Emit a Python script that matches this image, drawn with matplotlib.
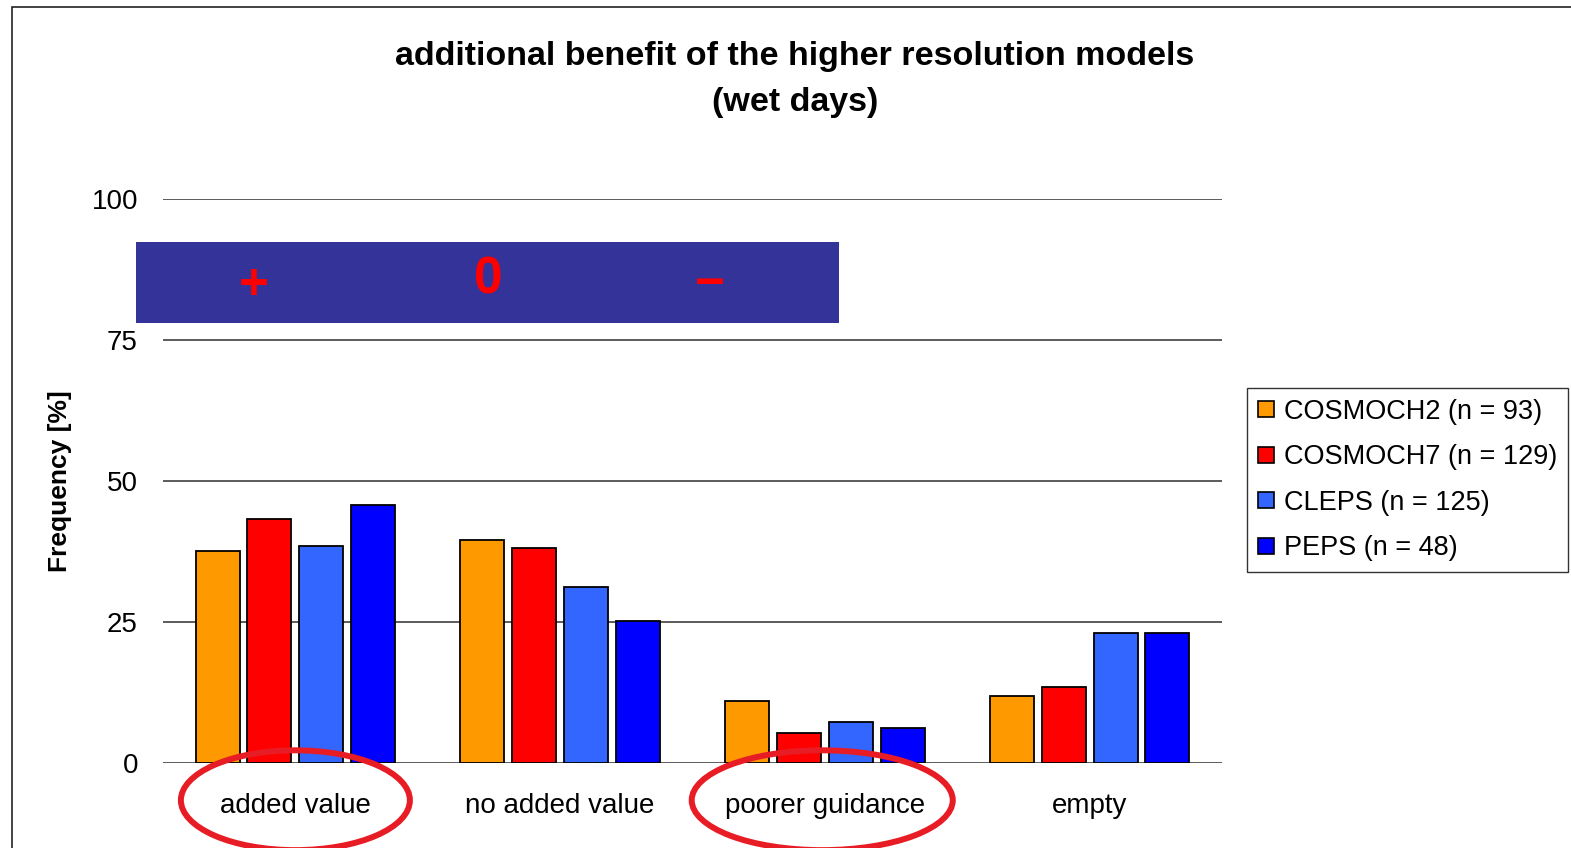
import matplotlib
matplotlib.use("Agg")
import matplotlib.pyplot as plt
import numpy as np
from matplotlib.patches import Rectangle, Ellipse
from matplotlib.lines import Line2D

plt.rcParams['font.family'] = ['Liberation Sans', 'DejaVu Sans']

categories = ["added value", "no added value", "poorer guidance", "empty"]
series_names = ["COSMOCH2 (n = 93)", "COSMOCH7 (n = 129)", "CLEPS (n = 125)", "PEPS (n = 48)"]
cosmoch2 = [37.6, 39.6, 11.0, 11.8]
cosmoch7 = [43.3, 38.1, 5.4, 13.4]
cleps = [38.5, 31.2, 7.3, 23.1]
peps = [45.7, 25.1, 6.2, 23.1]
yticks = [0, 25, 50, 75, 100]
colors = ["#FF9900", "#FF0000", "#3366FF", "#0000FF"]

W, H = 1571, 848
fig = plt.figure(figsize=(W / 100, H / 100), dpi=100)
ax = fig.add_axes([163 / W, 1 - 763 / H, (1222 - 163) / W, (763 - 199) / H])

x = np.arange(len(categories))
pitch = 0.196
width = 0.166
for i, (vals, col) in enumerate(zip([cosmoch2, cosmoch7, cleps, peps], colors)):
    ax.bar(x + (i - 1.5) * pitch, vals, width, color=col, edgecolor="black",
           linewidth=1.3, zorder=3)

ax.set_xlim(-0.5, 3.5)
ax.set_ylim(0, 100)
ax.set_yticks(yticks)
ax.set_yticklabels([str(t) for t in yticks], fontsize=20)
ax.set_xticks(x)
ax.set_xticklabels(categories, fontsize=20)
ax.tick_params(axis="y", length=0, pad=18)
ax.tick_params(axis="x", length=0, pad=21.5)
for s in ax.spines.values():
    s.set_visible(False)
ax.yaxis.grid(True, color="#404040", linewidth=1.2, zorder=0)
ax.set_axisbelow(True)

ax.set_ylabel("Frequency [%]", fontsize=19, fontweight="bold", labelpad=14)

# sign banner above the bars
ax.add_patch(Rectangle((-0.602, 78.1), 2.655, 14.3, facecolor="#333399",
                       edgecolor="none", clip_on=False, zorder=4))
for xs, sym, dy in [(-0.156, "+", -0.5), (0.728, "0", 0.4), (1.566, "\u2212", -0.4)]:
    ax.text(xs, 85.2 + dy, sym, color="#FF0000", fontsize=37, fontweight="bold",
            ha="center", va="center", zorder=5)

# highlight circles around two category labels
xt = ax.get_xaxis_transform()
for xc, w in [(0.0, 0.865), (1.99, 0.986)]:
    ax.add_patch(Ellipse((xc, -0.066), w, 0.177, transform=xt, fill=False,
                         edgecolor="#E81C24", linewidth=4.3, clip_on=False, zorder=6))

fig.text(795 / W, 1 - 57 / H, "additional benefit of the higher resolution models",
         ha="center", va="center", fontsize=24.5, fontweight="bold")
fig.text(795 / W, 1 - 102 / H, "(wet days)", ha="center", va="center",
         fontsize=24.5, fontweight="bold")

handles = [Line2D([0], [0], marker="s", linestyle="none", markersize=12,
                  markerfacecolor=c, markeredgecolor="black", markeredgewidth=1.2)
           for c in colors]
leg = fig.legend(handles, series_names, loc="upper left",
                 bbox_to_anchor=(1247 / W, 1 - 388 / H), borderaxespad=0,
                 fontsize=19.5, frameon=True, fancybox=False, edgecolor="black",
                 handlelength=0.6, handletextpad=0.35, labelspacing=0.72,
                 borderpad=0.4)
leg.get_frame().set_linewidth(1.0)

# chart area frame
fig.patches.append(Rectangle((12 / W, -0.1), 1.2, 1 - 7 / H + 0.1,
                             transform=fig.transFigure, fill=False,
                             edgecolor="#222222", linewidth=1.2))

fig.savefig("out.png", dpi=100)
